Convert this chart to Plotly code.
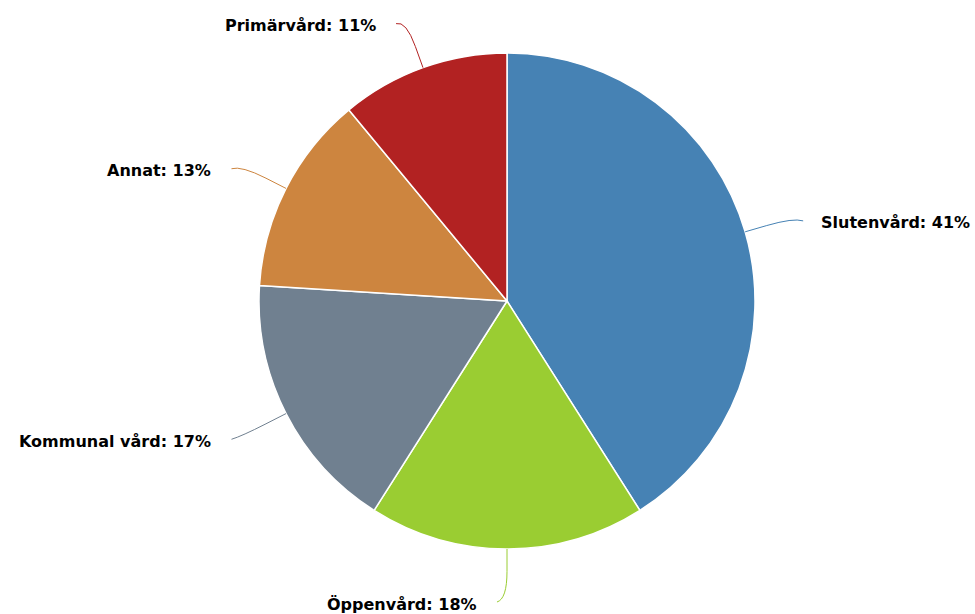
import math
import plotly.graph_objects as go

# Share of costs by care type (percent)
categories = ["Slutenvård", "Öppenvård", "Kommunal vård", "Annat", "Primärvård"]
values = [41, 18, 17, 13, 11]
colors = ["#4682B4", "#9ACD32", "#708090", "#CD853F", "#B22222"]

W, H = 975, 614
CX, CY, R = 507, 301, 248          # pie centre and radius in pixels
LABEL_DIST = 50                    # radial distance of connector bend beyond the rim
ELBOW = 10                         # horizontal run of the connector
GAP = 18                           # space between connector end and text


def px(x, y):
    return x / W, 1 - y / H


fig = go.Figure(
    go.Pie(
        labels=categories,
        values=values,
        sort=False,
        direction="clockwise",
        rotation=0,
        textinfo="none",
        hoverinfo="label+percent",
        marker=dict(colors=colors, line=dict(color="white", width=1.5)),
        domain=dict(x=[(CX - R) / W, (CX + R) / W], y=[1 - (CY + R) / H, 1 - (CY - R) / H]),
        showlegend=False,
    )
)

total = sum(values)
cum = 0
shapes, annotations = [], []
for name, v, c in zip(categories, values, colors):
    mid = (cum + v / 2) / total * 2 * math.pi
    cum += v
    s, co = math.sin(mid), math.cos(mid)
    right = s > 1e-6
    side = 1 if right else -1
    ex, ey = CX + R * s, CY - R * co                          # point on the rim
    bx, by = CX + (R + LABEL_DIST) * s, CY - (R + LABEL_DIST) * co  # bend point
    mx, my = CX + (R + LABEL_DIST * 0.45) * s, CY - (R + LABEL_DIST * 0.45) * co
    qx, qy = bx + side * ELBOW, by + 3                        # connector end
    p = [px(qx, qy), px(bx, by), px(mx, my), px(ex, ey)]
    path = "M {:.5f},{:.5f} Q {:.5f},{:.5f} {:.5f},{:.5f} L {:.5f},{:.5f}".format(
        p[0][0], p[0][1], p[1][0], p[1][1], p[2][0], p[2][1], p[3][0], p[3][1])
    shapes.append(dict(type="path", path=path, xref="paper", yref="paper",
                       line=dict(color=c, width=1)))
    tx, ty = px(qx + side * (GAP if not right else GAP - 2), qy + 2)
    annotations.append(dict(
        x=tx, y=ty, xref="paper", yref="paper",
        text="<b>{}: {}%</b>".format(name, round(v / total * 100)),
        showarrow=False, xanchor="left" if right else "right", yanchor="middle",
        font=dict(family="DejaVu Sans", size=16, color="#000000"),
    ))

fig.update_layout(
    width=W, height=H,
    margin=dict(l=0, r=0, t=0, b=0),
    paper_bgcolor="white",
    plot_bgcolor="white",
    shapes=shapes,
    annotations=annotations,
)

fig.write_html("out.html")
